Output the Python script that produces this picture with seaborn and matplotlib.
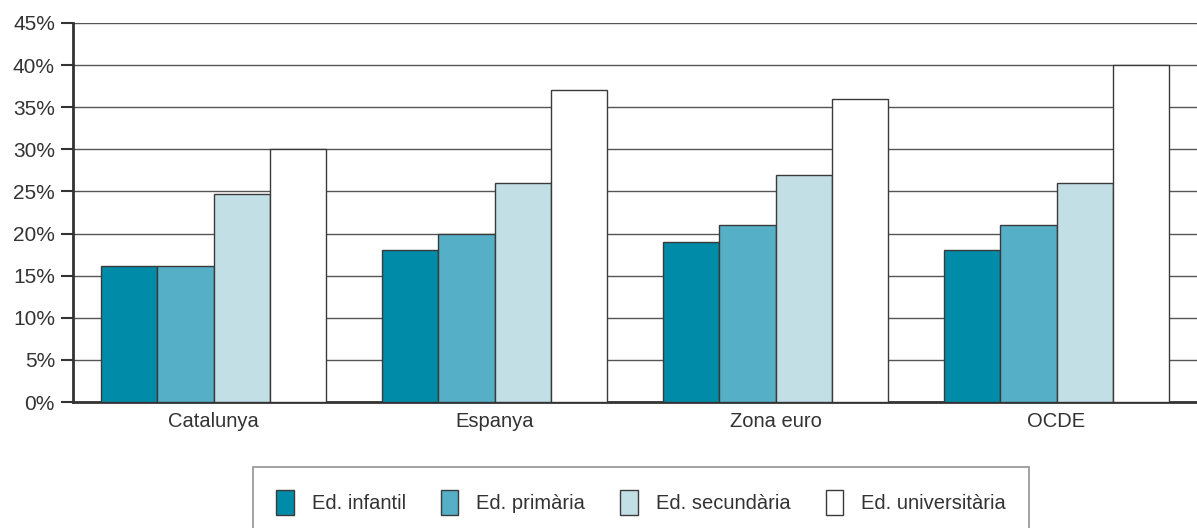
import pandas as pd
import matplotlib.pyplot as plt
import seaborn as sns
from matplotlib.ticker import FuncFormatter, FixedLocator

sns.set_style("white")
plt.rcParams['font.family'] = ['Liberation Sans', 'DejaVu Sans']

# Dades (percentatge)
territoris = ['Catalunya', 'Espanya', 'Zona euro', 'OCDE']
nivells = ['Ed. infantil', 'Ed. primària', 'Ed. secundària', 'Ed. universitària']
infantil = [16.2, 18, 19, 18]
primaria = [16.2, 20, 21, 21]
secundaria = [24.7, 26, 27, 26]
universitaria = [30, 37, 36, 40]
colors = ['#008ca8', '#55afc7', '#c2dfe6', '#ffffff']

files = []
for serie, nom in zip([infantil, primaria, secundaria, universitaria], nivells):
    for t, v in zip(territoris, serie):
        files.append({'territori': t, 'nivell': nom, 'valor': v})
df = pd.DataFrame(files)

fig = plt.figure(figsize=(11.97, 5.28), dpi=100)
ax = fig.add_axes([73 / 1197, 126 / 528, 1 - 73 / 1197, 379 / 528])

sns.barplot(data=df, x='territori', y='valor', hue='nivell', hue_order=nivells,
            palette=colors, width=0.8, edgecolor='#3a3a3a', linewidth=1,
            saturation=1, ax=ax, zorder=3)

ax.set_ylim(0, 45)
ax.set_xlim(-0.5, 3.5)
ax.set_yticks(range(0, 46, 5))
ax.yaxis.set_major_formatter(FuncFormatter(lambda v, p: f'{int(v)}%'))
ax.yaxis.grid(True, color='#555555', linewidth=1)
ax.set_axisbelow(True)

ax.xaxis.set_minor_locator(FixedLocator([-0.5, 0.5, 1.5, 2.5]))
ax.tick_params(axis='x', which='major', length=0, labelsize=14.5, labelcolor='#333333', pad=7)
ax.tick_params(axis='x', which='minor', length=8, width=1.5, color='#333333', direction='out')
ax.tick_params(axis='y', length=9, width=1.5, color='#333333', direction='out',
               labelsize=15, labelcolor='#333333', left=True, pad=4)

for s in ['top', 'right']:
    ax.spines[s].set_visible(False)
for s in ['left', 'bottom']:
    ax.spines[s].set_color('#333333')
    ax.spines[s].set_linewidth(2)

ax.set_xlabel('')
ax.set_ylabel('')

handles, labels = ax.get_legend_handles_labels()
ax.get_legend().remove()
leg = fig.legend(handles, labels, loc='upper center', ncol=4,
                 bbox_to_anchor=(641 / 1197, 1 - 467 / 528),
                 frameon=True, fancybox=False, fontsize=14.5,
                 handlelength=0.85, handleheight=1.5, handletextpad=0.9,
                 columnspacing=1.75, borderpad=1.15, borderaxespad=0,
                 labelcolor='#333333')
leg.get_frame().set_edgecolor('#777777')
leg.get_frame().set_linewidth(1.2)

plt.savefig('out.png', dpi=100)
